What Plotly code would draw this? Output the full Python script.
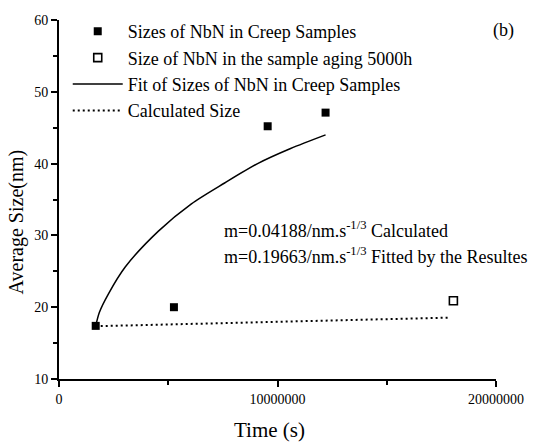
import plotly.graph_objects as go

# Data
creep_t = [1.68e6, 5.26e6, 9.55e6, 12.2e6]
creep_d = [17.4, 20.0, 45.2, 47.1]

aging_t = [18.05e6]
aging_d = [20.9]

fit_t = [1.68e6, 1.85e6, 2.27e6, 3.03e6, 4.55e6, 6.06e6, 7.58e6, 9.09e6, 10.6e6, 12.2e6]
fit_d = [17.4, 19.3, 21.9, 25.6, 30.6, 34.4, 37.3, 40.0, 42.1, 44.0]

calc_t = [1.68e6, 5.0e6, 9.0e6, 13.0e6, 17.9e6]
calc_d = [17.35, 17.6, 17.95, 18.2, 18.55]

x_ticks = [0, 10000000, 20000000]
y_ticks = [10, 20, 30, 40, 50, 60]

FONT = "Liberation Serif"

fig = go.Figure()
fig.add_trace(go.Scatter(x=creep_t, y=creep_d, mode="markers",
                         name="Sizes of NbN in Creep Samples",
                         marker=dict(symbol="square", size=8, color="black")))
fig.add_trace(go.Scatter(x=aging_t, y=aging_d, mode="markers",
                         name="Size of NbN in the sample aging 5000h",
                         marker=dict(symbol="square-open", size=8, color="black",
                                     line=dict(width=1.6, color="black"))))
fig.add_trace(go.Scatter(x=fit_t, y=fit_d, mode="lines",
                         name="Fit of Sizes of NbN in Creep Samples",
                         line=dict(color="black", width=1.5, shape="spline", smoothing=0.8)))
fig.add_trace(go.Scatter(x=calc_t, y=calc_d, mode="lines",
                         name="Calculated Size",
                         line=dict(color="black", width=2, dash="2px,3px")))

axis_common = dict(showline=True, linecolor="#000000", linewidth=2,
                   ticks="outside", ticklen=6, tickwidth=2, tickcolor="#000000",
                   showgrid=False, zeroline=False, mirror=False,
                   tickfont=dict(family=FONT, size=14, color="black"))

fig.update_xaxes(range=[0, 20000000], tickvals=x_ticks, tickformat="d",
                 minor=dict(ticks="outside", ticklen=4, tickwidth=2, tickcolor="#000000",
                            dtick=5000000, showgrid=False),
                 **axis_common)
fig.update_yaxes(range=[10, 60], tickvals=y_ticks,
                 minor=dict(ticks="outside", ticklen=4, tickwidth=2, tickcolor="#000000",
                            dtick=5, showgrid=False),
                 **axis_common)

fig.add_annotation(text="Time (s)", xref="paper", yref="paper",
                   x=(271.5 - 59) / 441, y=-(430 - 379) / 359, showarrow=False,
                   xanchor="center", yanchor="middle",
                   font=dict(family=FONT, size=21, color="black"))
fig.add_annotation(text="Average Size(nm)", xref="paper", yref="paper",
                   x=(17 - 59) / 441, y=(379 - 222) / 359, showarrow=False, textangle=-90,
                   xanchor="center", yanchor="middle",
                   font=dict(family=FONT, size=20, color="black"))
fig.add_annotation(text="m=0.04188/nm.s<sup>-1/3</sup> Calculated", xref="paper", yref="paper",
                   x=(223 - 59) / 441, y=(379 - 229) / 359, xanchor="left", yanchor="middle",
                   showarrow=False,
                   font=dict(family=FONT, size=18, color="black"))
fig.add_annotation(text="m=0.19663/nm.s<sup>-1/3</sup> Fitted by the Resultes", xref="paper", yref="paper",
                   x=(223 - 59) / 441, y=(379 - 255) / 359, xanchor="left", yanchor="middle",
                   showarrow=False,
                   font=dict(family=FONT, size=18, color="black"))
fig.add_annotation(text="(b)", xref="paper", yref="paper",
                   x=(508 - 59) / 441, y=(379 - 30) / 359, showarrow=False,
                   xanchor="center", yanchor="middle",
                   font=dict(family=FONT, size=18, color="black"))

fig.update_layout(
    width=536, height=444,
    margin=dict(l=59, r=36, t=20, b=65),
    plot_bgcolor="white", paper_bgcolor="white",
    showlegend=True,
    legend=dict(x=0.02, y=1.0195, xanchor="left", yanchor="top",
                bgcolor="rgba(0,0,0,0)", itemwidth=50,
                font=dict(family=FONT, size=18, color="black"),
                tracegroupgap=0),
)

fig.write_html("out.html")
